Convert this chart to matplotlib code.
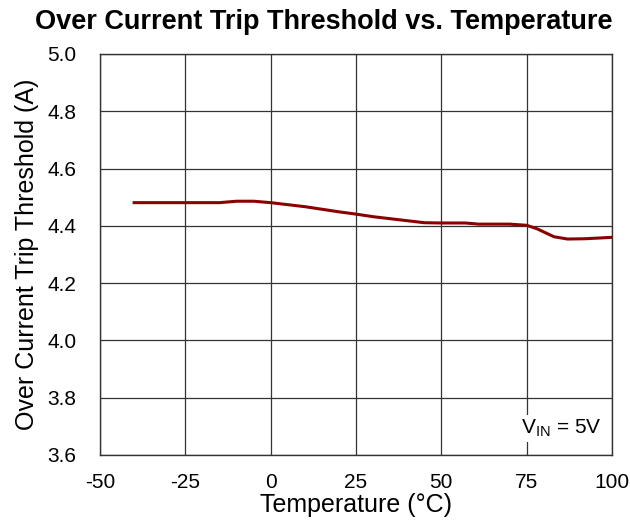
import matplotlib
matplotlib.use("Agg")
import matplotlib.pyplot as plt
import numpy as np

# values
temp_c = [-40, -30, -20, -15, -10, -5, 0, 10, 20, 25, 30, 40, 45, 50, 57, 61, 70, 75, 78, 83, 87, 92, 97, 100]
trip_a = [4.481, 4.481, 4.481, 4.481, 4.486, 4.486, 4.481, 4.467, 4.449, 4.441, 4.432, 4.418, 4.411, 4.410,
          4.410, 4.406, 4.406, 4.402, 4.390, 4.362, 4.354, 4.355, 4.358, 4.360]

x_ticks = [-50, -25, 0, 25, 50, 75, 100]
y_ticks = [3.6, 3.8, 4.0, 4.2, 4.4, 4.6, 4.8, 5.0]

plt.rcParams['font.family'] = ['Liberation Sans', 'DejaVu Sans']
plt.rcParams['axes.unicode_minus'] = False

fig = plt.figure(figsize=(6.3, 5.31), dpi=100)
ax = fig.add_axes([100 / 630, 76 / 531, 512 / 630, 401 / 531])

ax.plot(temp_c, trip_a, color='#8b0000', lw=2.2, solid_joinstyle='round', zorder=3)

ax.set_xlim(-50, 100)
ax.set_ylim(3.6, 5.0)
ax.set_xticks(x_ticks)
ax.set_yticks(y_ticks)
ax.set_yticklabels([f"{v:.1f}" for v in y_ticks])
ax.tick_params(length=0, labelsize=15)
ax.tick_params(axis='y', pad=17)
ax.tick_params(axis='x', pad=13)
ax.grid(True, color='#333333', lw=0.9)
for s in ax.spines.values():
    s.set_color('#333333')
    s.set_linewidth(1.0)

ax.set_xlabel("Temperature (°C)", fontsize=18, labelpad=1)
ax.set_ylabel("Over Current Trip Threshold (A)", fontsize=18, labelpad=6)
fig.text(0.514, 0.958, "Over Current Trip Threshold vs. Temperature", ha='center', va='center',
         fontsize=19.5, fontweight='bold')

ax.text(97, 3.694, r"V$_{\mathregular{IN}}$ = 5V", ha='right', va='center', fontsize=15,
        bbox=dict(facecolor='white', edgecolor='none', pad=2), zorder=4)

fig.savefig("out.png", dpi=100)
